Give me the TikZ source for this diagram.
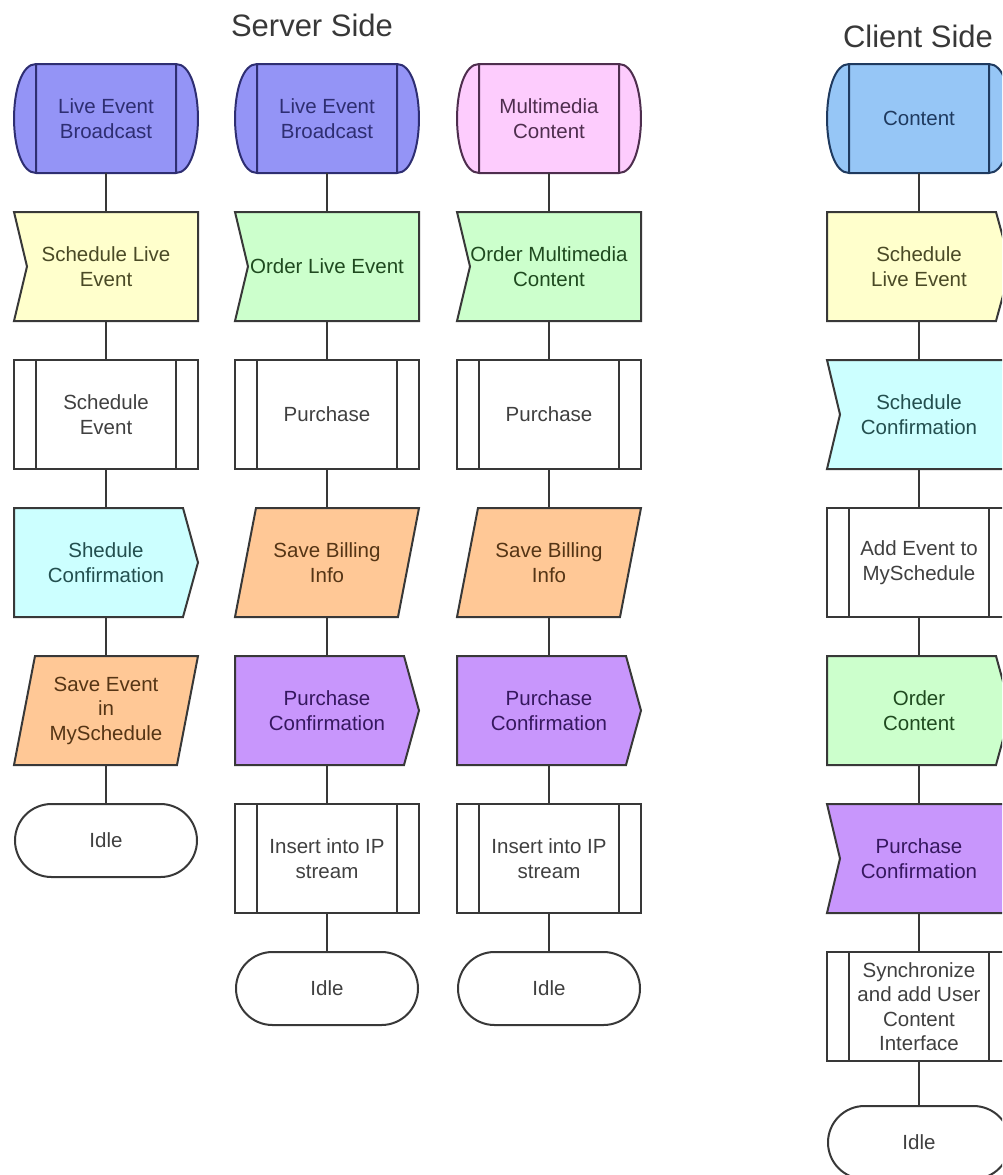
\documentclass[tikz,border=0pt]{standalone}
\usepackage{fontspec}
\setmainfont{Liberation Sans}
\usetikzlibrary{positioning, shapes.misc}

% fills (F) and texts (T)
\definecolor{bluF}{HTML}{9494F6} \definecolor{bluT}{HTML}{2E2E72}
\definecolor{pnkF}{HTML}{FDCCFD} \definecolor{pnkT}{HTML}{4E2E4E}
\definecolor{skyF}{HTML}{96C6F6} \definecolor{skyT}{HTML}{1F3A5F}
\definecolor{yelF}{HTML}{FFFFCC} \definecolor{yelT}{HTML}{4A4A26}
\definecolor{grnF}{HTML}{CCFFCC} \definecolor{grnT}{HTML}{1F4A1F}
\definecolor{cyaF}{HTML}{CCFFFF} \definecolor{cyaT}{HTML}{234F4F}
\definecolor{orgF}{HTML}{FFC896} \definecolor{orgT}{HTML}{553515}
\definecolor{purF}{HTML}{C896FC} \definecolor{purT}{HTML}{36185F}
\definecolor{whtF}{HTML}{FFFFFF} \definecolor{whtT}{HTML}{404040}
\definecolor{linegray}{HTML}{383838}

% flowchart shapes: rectangle anchors, own outlines
\makeatletter
\newdimen\fsL \newdimen\fsR \newdimen\fsT \newdimen\fsB \newdimen\fsM
\def\fsCorners{%
  \southwest \fsL=\pgf@x \fsB=\pgf@y
  \northeast \fsR=\pgf@x \fsT=\pgf@y
  \fsM=\fsB \advance\fsM by \fsT \divide\fsM by 2 }
\def\fsInherit{%
  \inheritsavedanchors[from=rectangle]%
  \inheritanchorborder[from=rectangle]%
  \inheritanchor[from=rectangle]{center}%
  \inheritanchor[from=rectangle]{text}%
  \inheritanchor[from=rectangle]{base}%
  \inheritanchor[from=rectangle]{mid}%
  \inheritanchor[from=rectangle]{north}%
  \inheritanchor[from=rectangle]{south}%
  \inheritanchor[from=rectangle]{east}%
  \inheritanchor[from=rectangle]{west}%
  \inheritanchor[from=rectangle]{north west}%
  \inheritanchor[from=rectangle]{north east}%
  \inheritanchor[from=rectangle]{south west}%
  \inheritanchor[from=rectangle]{south east}}
\def\fsBars{% inner side lines
  \pgfpathmoveto{\pgfqpoint{\dimexpr\fsL+22pt}{\fsT}}%
  \pgfpathlineto{\pgfqpoint{\dimexpr\fsL+22pt}{\fsB}}%
  \pgfpathmoveto{\pgfqpoint{\dimexpr\fsR-22pt}{\fsT}}%
  \pgfpathlineto{\pgfqpoint{\dimexpr\fsR-22pt}{\fsB}}}
\pgfdeclareshape{startbox}{\fsInherit
  \backgroundpath{\fsCorners
    \pgfpathmoveto{\pgfqpoint{\dimexpr\fsL+22pt}{\fsT}}%
    \pgfpathlineto{\pgfqpoint{\dimexpr\fsR-22pt}{\fsT}}%
    \pgfpathcurveto{\pgfqpoint{\dimexpr\fsR+7.3pt}{\fsT}}%
      {\pgfqpoint{\dimexpr\fsR+7.3pt}{\fsB}}{\pgfqpoint{\dimexpr\fsR-22pt}{\fsB}}%
    \pgfpathlineto{\pgfqpoint{\dimexpr\fsL+22pt}{\fsB}}%
    \pgfpathcurveto{\pgfqpoint{\dimexpr\fsL-7.3pt}{\fsB}}%
      {\pgfqpoint{\dimexpr\fsL-7.3pt}{\fsT}}{\pgfqpoint{\dimexpr\fsL+22pt}{\fsT}}%
    \pgfpathclose
    \fsBars}}
\pgfdeclareshape{procbox}{\fsInherit
  \backgroundpath{\fsCorners
    \pgfpathrectanglecorners{\pgfqpoint{\fsL}{\fsB}}{\pgfqpoint{\fsR}{\fsT}}%
    \fsBars}}
\pgfdeclareshape{inbox}{\fsInherit
  \backgroundpath{\fsCorners
    \pgfpathmoveto{\pgfqpoint{\fsL}{\fsT}}%
    \pgfpathlineto{\pgfqpoint{\fsR}{\fsT}}%
    \pgfpathlineto{\pgfqpoint{\fsR}{\fsB}}%
    \pgfpathlineto{\pgfqpoint{\fsL}{\fsB}}%
    \pgfpathlineto{\pgfqpoint{\dimexpr\fsL+13pt}{\fsM}}%
    \pgfpathclose}}
\pgfdeclareshape{outbox}{\fsInherit
  \backgroundpath{\fsCorners
    \pgfpathmoveto{\pgfqpoint{\fsL}{\fsT}}%
    \pgfpathlineto{\pgfqpoint{\dimexpr\fsR-15pt}{\fsT}}%
    \pgfpathlineto{\pgfqpoint{\fsR}{\fsM}}%
    \pgfpathlineto{\pgfqpoint{\dimexpr\fsR-15pt}{\fsB}}%
    \pgfpathlineto{\pgfqpoint{\fsL}{\fsB}}%
    \pgfpathclose}}
\pgfdeclareshape{slantbox}{\fsInherit
  \backgroundpath{\fsCorners
    \pgfpathmoveto{\pgfqpoint{\dimexpr\fsL+21pt}{\fsT}}%
    \pgfpathlineto{\pgfqpoint{\fsR}{\fsT}}%
    \pgfpathlineto{\pgfqpoint{\dimexpr\fsR-21pt}{\fsB}}%
    \pgfpathlineto{\pgfqpoint{\fsL}{\fsB}}%
    \pgfpathclose}}
\makeatother

\tikzset{
  box/.style={minimum width=184pt, minimum height=109pt, inner sep=1pt,
    outer sep=0pt, align=center, line width=2pt, draw=linegray,
    font=\fontsize{20.5}{24.5}\selectfont},
  startevt/.style={box, shape=startbox, fill=#1F, draw=#1T, text=#1T},
  subproc/.style={box, shape=procbox, fill=white, text=whtT},
  inmsg/.style={box, shape=inbox, fill=#1F, text=#1T},
  outmsg/.style={box, shape=outbox, fill=#1F, text=#1T},
  savedata/.style={box, shape=slantbox, fill=#1F, text=#1T},
  idle/.style={box, rounded rectangle, minimum height=73pt, fill=white, text=whtT},
  sidetitle/.style={font=\fontsize{31}{37}\selectfont, text=linegray},
  link/.style={draw=linegray, line width=2pt}
}

\begin{document}
\begin{tikzpicture}[x=1pt, y=1pt, node distance=39pt]
\useasboundingbox (0,0) rectangle (1002,-1175);
\clip (0,0) rectangle (1002,-1175);

\node[sidetitle] (server) at (312,-25) {Server Side};
\node[sidetitle] (client) at (918,-36) {Client Side};

% server: live event, scheduling
\node[startevt=blu] (live1) at (106,-118.5) {Live Event\\Broadcast};
\node[inmsg=yel] (sched1) [below=of live1] {Schedule Live\\Event};
\node[subproc] (schev1) [below=of sched1] {Schedule\\Event};
\node[outmsg=cya] (sconf1) [below=of schev1] {Shedule\\Confirmation};
\node[savedata=org] (save1) [below=of sconf1] {Save Event\\in\\MySchedule};
\node[idle] (idle1) [below=of save1] {Idle};

% server: live event, ordering
\node[startevt=blu] (live2) at (327,-118.5) {Live Event\\Broadcast};
\node[inmsg=grn] (order2) [below=of live2] {Order Live Event};
\node[subproc] (purch2) [below=of order2] {Purchase};
\node[savedata=org] (bill2) [below=of purch2] {Save Billing\\Info};
\node[outmsg=pur] (pconf2) [below=of bill2] {Purchase\\Confirmation};
\node[subproc] (ins2) [below=of pconf2] {Insert into IP\\stream};
\node[idle] (idle2) [below=of ins2] {Idle};

% server: multimedia content
\node[startevt=pnk] (media3) at (549,-118.5) {Multimedia\\Content};
\node[inmsg=grn] (order3) [below=of media3] {Order Multimedia\\Content};
\node[subproc] (purch3) [below=of order3] {Purchase};
\node[savedata=org] (bill3) [below=of purch3] {Save Billing\\Info};
\node[outmsg=pur] (pconf3) [below=of bill3] {Purchase\\Confirmation};
\node[subproc] (ins3) [below=of pconf3] {Insert into IP\\stream};
\node[idle] (idle3) [below=of ins3] {Idle};

% client
\node[startevt=sky] (content) at (919,-118.5) {Content};
\node[outmsg=yel] (cschev) [below=of content] {Schedule\\Live Event};
\node[inmsg=cya] (csconf) [below=of cschev] {Schedule\\Confirmation};
\node[subproc] (addev) [below=of csconf] {Add Event to\\MySchedule};
\node[outmsg=grn] (corder) [below=of addev] {Order\\Content};
\node[inmsg=pur] (cpconf) [below=of corder] {Purchase\\Confirmation};
\node[subproc] (sync) [below=of cpconf] {Synchronize\\and add User\\Content\\Interface};
\node[idle] (cidle) [below=45pt of sync] {Idle};

\draw[link] (live1) -- (sched1);
\draw[link] (sched1) -- (schev1);
\draw[link] (schev1) -- (sconf1);
\draw[link] (sconf1) -- (save1);
\draw[link] (save1) -- (idle1);

\draw[link] (live2) -- (order2);
\draw[link] (order2) -- (purch2);
\draw[link] (purch2) -- (bill2);
\draw[link] (bill2) -- (pconf2);
\draw[link] (pconf2) -- (ins2);
\draw[link] (ins2) -- (idle2);

\draw[link] (media3) -- (order3);
\draw[link] (order3) -- (purch3);
\draw[link] (purch3) -- (bill3);
\draw[link] (bill3) -- (pconf3);
\draw[link] (pconf3) -- (ins3);
\draw[link] (ins3) -- (idle3);

\draw[link] (content) -- (cschev);
\draw[link] (cschev) -- (csconf);
\draw[link] (csconf) -- (addev);
\draw[link] (addev) -- (corder);
\draw[link] (corder) -- (cpconf);
\draw[link] (cpconf) -- (sync);
\draw[link] (sync) -- (cidle);
\end{tikzpicture}
\end{document}
